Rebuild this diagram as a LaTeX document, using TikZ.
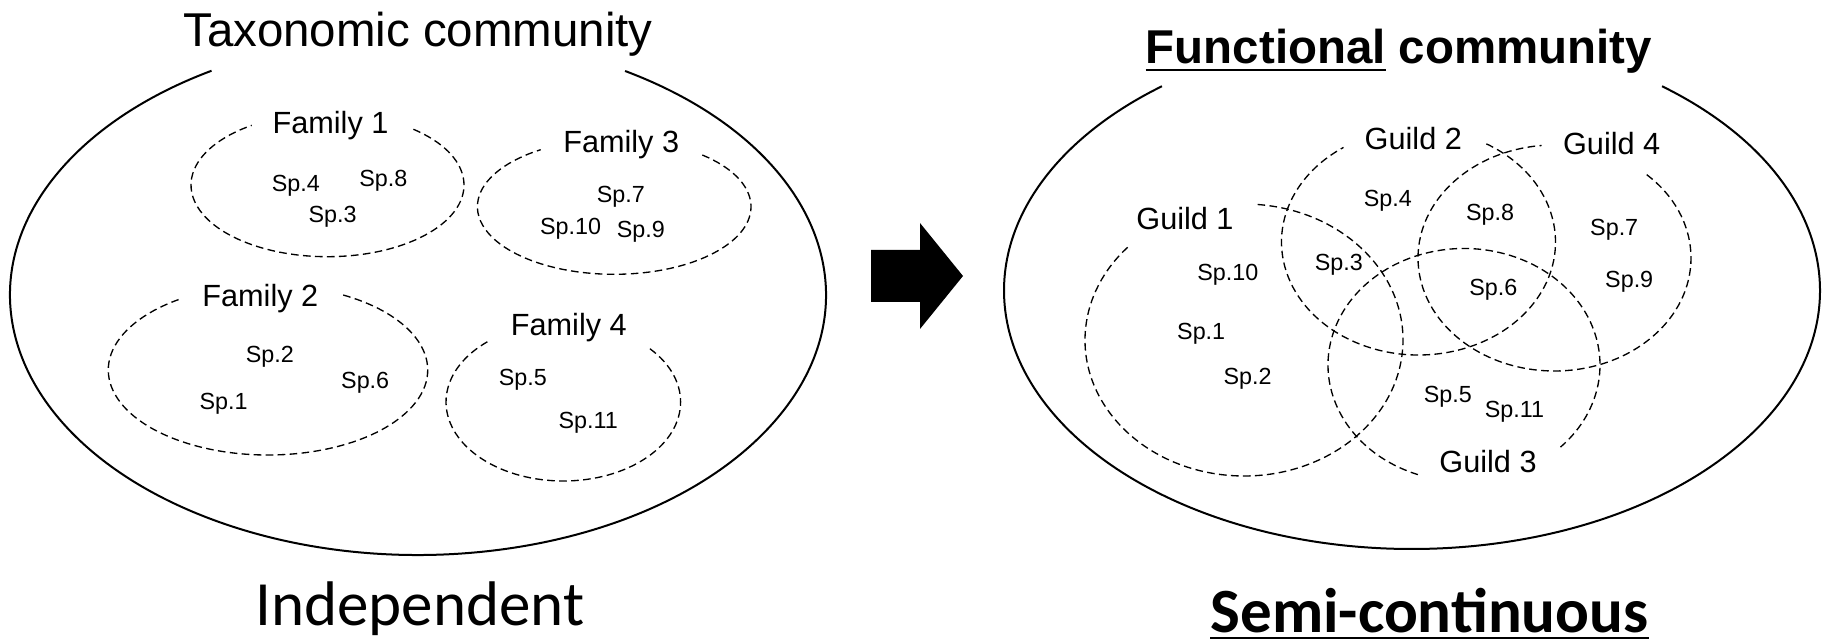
\documentclass[tikz,border=0pt]{standalone}
\usepackage{fontspec}
\setmainfont{Liberation Sans}
\newfontfamily\calibri{Carlito}
\begin{document}
\begin{tikzpicture}[x=0.75pt,y=-0.75pt,
  outerline/.style={line width=1.5pt},
  dline/.style={line width=1pt, dash pattern=on 5.7pt off 3.3pt},
  sp/.style={font=\fontsize{17.5}{21}\selectfont, inner sep=0pt},
  grp/.style={font=\fontsize{23}{27}\selectfont, inner sep=0pt},
  ttl/.style={font=\fontsize{35.6}{42}\selectfont, inner sep=0pt},
  big/.style={font=\calibri\fontsize{47.25}{56}\selectfont, inner sep=0pt}]
\useasboundingbox (0,0) rectangle (1825,641);

% ---------- left panel ----------
\node[ttl, anchor=base] (ttax) at (418,46.7) {Taxonomic community};
\draw[outerline] (418,295) ++(-59.5:408 and 260) arc[start angle=-59.5, end angle=239.6, x radius=408, y radius=260];

\draw[dline] (327.5,185) ++(-51:136.5 and 71.7) arc[start angle=-51, end angle=236.3, x radius=136.5, y radius=71.7];
\draw[dline] (614.2,206.7) ++(-49.9:136.8 and 67.6) arc[start angle=-49.9, end angle=237.5, x radius=136.8, y radius=67.6];
\draw[dline] (268,370) ++(-61.9:159.7 and 85) arc[start angle=-61.9, end angle=236.6, x radius=159.7, y radius=85];
\draw[dline] (563.3,402) ++(-42.4:117.3 and 79) arc[start angle=-42.4, end angle=230.3, x radius=117.3, y radius=79];

\node[grp] (f1) at (330.5,125.8) {Family 1};
\node[grp] (f3) at (621.2,144.2) {Family 3};
\node[grp] (f2) at (260.3,298.3) {Family 2};
\node[grp] (f4) at (568.8,327.2) {Family 4};

\node[sp] (la4) at (295.8,186) {Sp.4};
\node[sp] (la8) at (383.3,180.7) {Sp.8};
\node[sp] (la3) at (332.5,216.7) {Sp.3};
\node[sp] (la7) at (620.8,197) {Sp.7};
\node[sp] (la10) at (570.5,229.2) {Sp.10};
\node[sp] (la9) at (640.8,232.2) {Sp.9};
\node[sp] (la2) at (269.8,357) {Sp.2};
\node[sp] (la6) at (365.2,382.5) {Sp.6};
\node[sp] (la1) at (223.5,403.3) {Sp.1};
\node[sp] (la5) at (522.8,379.7) {Sp.5};
\node[sp] (la11) at (588.3,423) {Sp.11};

\node[big, anchor=base] (indep) at (420,625) {Independent};

% ---------- arrow ----------
\fill (871,250) -- (920,250) -- (920,223) -- (963,276) -- (920,329) -- (920,302) -- (871,302) -- cycle;

% ---------- right panel ----------
\node[ttl, anchor=base] (tfun) at (1399,63.3) {\bfseries Functional community};
\draw[line width=1.8pt] ([yshift=-5.2pt]tfun.base west) -- ++(240.7,0);
\draw[outerline] (1412,290.5) ++(-52.2:408 and 258.5) arc[start angle=-52.2, end angle=232.2, x radius=408, y radius=258.5];

\draw[dline] (1244,340) ++(-85.1:159 and 136) arc[start angle=-85.1, end angle=223.3, x radius=159, y radius=136];
\draw[dline] (1418.5,242) ++(-60.3:137 and 113) arc[start angle=-60.3, end angle=236.8, x radius=137, y radius=113];
\draw[dline] (1554.5,258) ++(-47.5:136.5 and 113) arc[start angle=-47.5, end angle=264.6, x radius=136.5, y radius=113];
\draw[dline] (1464,365) ++(109.8:136 and 116.5) arc[start angle=109.8, end angle=404.8, x radius=136, y radius=116.5];

\node[grp] (g1) at (1185,218.7) {Guild 1};
\node[grp] (g2) at (1413.3,138.3) {Guild 2};
\node[grp] (g4) at (1611.7,143.3) {Guild 4};
\node[grp] (g3) at (1488,461.7) {Guild 3};

\node[sp] (rb4) at (1387.8,200.3) {Sp.4};
\node[sp] (rb8) at (1490,215) {Sp.8};
\node[sp] (rb10) at (1227.8,275) {Sp.10};
\node[sp] (rb3) at (1338.8,265) {Sp.3};
\node[sp] (rb6) at (1493.3,290) {Sp.6};
\node[sp] (rb1) at (1201.2,333.3) {Sp.1};
\node[sp] (rb2) at (1247.5,378.3) {Sp.2};
\node[sp] (rb5) at (1447.8,396.7) {Sp.5};
\node[sp] (rb11) at (1514.5,411.3) {Sp.11};
\node[sp] (rb7) at (1614.2,230) {Sp.7};
\node[sp] (rb9) at (1629.2,282.2) {Sp.9};

\node[big, anchor=base] (semi) at (1429.5,632.5) {\bfseries Semi-continuous};
\draw[line width=1.3pt] ([yshift=-4.1pt]semi.base west) -- ([yshift=-4.1pt]semi.base east);
\end{tikzpicture}
\end{document}
